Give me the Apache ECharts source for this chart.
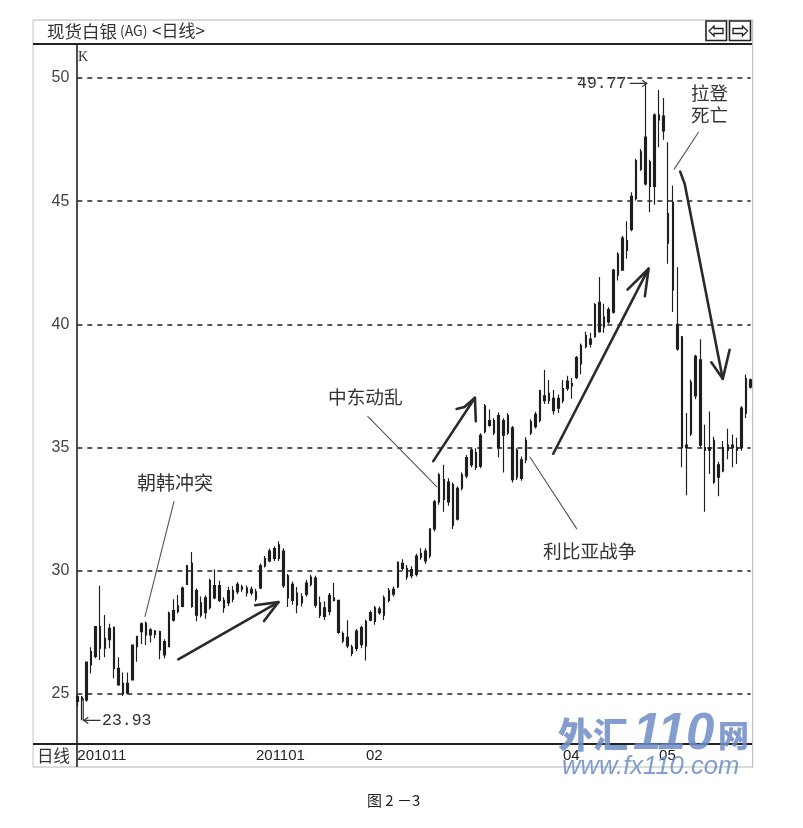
<!DOCTYPE html>
<html><head><meta charset="utf-8">
<style>html,body{margin:0;padding:0;background:#fff}#c{width:803px;height:828px}</style>
<script src="https://cdn.jsdelivr.net/npm/echarts@6/dist/echarts.min.js"></script>
</head><body><div id="c"></div>
<script>
// Daily bars (all candles are drawn black, so only body top/bottom are readable)
const highs=[24.96,24.92,26.31,26.9,27.74,29.39,28.21,27.85,27.74,26.49,25.87,25.87,26.99,27.36,27.9,27.94,27.67,27.6,27.57,27.22,28.35,28.85,29.02,29.36,30.24,30.76,29.28,28.96,29.0,29.68,30.05,29.6,28.93,29.35,29.37,29.55,29.43,29.4,29.36,29.27,30.3,30.6,30.9,31.0,31.2,30.92,29.87,29.57,29.34,29.09,29.64,29.84,29.8,28.96,28.76,29.1,29.5,28.82,27.54,27.99,27.0,27.64,27.77,28.01,28.39,28.58,28.55,29.0,29.3,29.36,30.38,30.47,30.24,30.18,30.69,30.92,30.92,31.73,32.88,33.96,34.3,33.76,33.58,33.42,33.99,34.7,34.97,34.97,35.58,36.77,36.55,36.19,36.42,36.19,36.39,35.88,34.97,34.64,35.42,36.15,36.46,37.35,38.15,37.74,37.34,37.15,37.74,37.92,37.82,38.72,39.22,39.7,39.66,40.87,41.92,40.84,40.7,42.26,42.93,43.6,44.19,45.36,46.72,47.12,49.77,46.68,48.57,49.51,49.19,47.39,45.64,42.32,39.53,36.4,37.76,38.77,39.4,35.93,36.47,35.44,34.43,35.27,35.76,35.53,35.4,36.69,37.97,37.8];
const lows=[24.49,23.93,24.69,25.84,26.45,26.38,26.49,26.86,25.64,25.33,24.92,25.0,25.57,26.31,27.03,26.99,27.09,27.26,26.41,26.45,26.9,27.94,28.28,28.52,29.43,28.5,27.95,28.1,28.05,28.43,28.85,28.73,28.3,28.57,28.72,29.05,29.15,28.96,29.0,28.75,29.25,30.13,30.35,30.4,30.4,29.3,28.53,28.62,28.28,28.55,28.96,29.36,28.5,28.08,28.0,28.2,28.75,27.45,27.07,26.86,26.53,26.73,26.86,26.36,27.95,27.81,28.22,28.0,28.72,28.96,29.3,30.0,29.64,29.7,29.77,30.45,30.28,30.51,31.6,32.68,32.4,32.64,31.7,32.04,33.26,33.76,34.2,34.09,34.16,35.58,35.85,35.51,34.6,33.99,35.51,33.58,33.69,33.65,34.36,35.51,35.78,36.03,36.77,36.77,36.34,36.4,36.8,37.31,36.98,37.78,37.98,39.03,39.06,39.46,39.66,39.66,40.03,40.43,41.78,42.19,42.66,43.78,45.03,46.24,45.64,44.55,44.86,47.19,47.49,42.46,40.5,38.93,34.2,33.07,35.47,36.96,35.0,32.4,33.93,33.53,33.03,34.0,34.53,34.2,34.33,34.87,36.2,37.4];
const bodyTops=[24.9,24.86,26.3,26.72,27.74,27.74,27.26,27.67,27.71,26.04,25.43,25.43,26.99,27.33,27.85,27.87,27.6,27.55,27.53,27.13,28.28,28.39,28.58,29.3,30.2,30.3,29.2,28.7,28.9,29.6,29.4,29.4,28.8,29.2,29.2,29.45,29.35,29.3,29.25,29.15,30.2,30.5,30.8,30.9,31.05,30.8,29.8,29.45,29.1,28.95,29.5,29.75,29.7,28.7,28.5,29.0,28.9,28.8,27.45,27.3,26.9,27.55,27.7,27.95,28.3,28.5,28.45,28.9,29.2,29.25,30.35,30.3,30.1,30.05,30.6,30.7,30.8,31.7,32.8,33.9,33.7,33.6,33.5,33.35,33.9,34.6,34.9,34.8,35.5,36.7,36.1,36.1,36.3,36.1,36.3,35.8,34.9,34.5,35.3,36.05,36.35,37.3,37.1,37.2,37.0,37.0,37.4,37.7,37.6,38.65,39.15,39.55,39.4,40.8,40.9,40.3,40.6,42.2,42.85,43.5,43.4,45.2,46.65,47.0,47.6,46.6,48.5,48.5,48.45,44.5,44.95,40.0,39.5,35.1,37.65,38.7,38.56,35.0,35.0,35.3,34.3,35.0,35.1,35.1,35.0,36.6,37.8,37.75];
const bodyBottoms=[24.7,24.76,24.76,26.18,26.52,26.86,26.86,27.2,26.04,25.37,25.0,25.03,25.57,26.92,27.53,27.4,27.4,27.42,26.79,26.59,26.92,28.0,28.35,28.55,29.45,28.55,28.2,28.2,28.3,28.5,28.9,28.8,28.5,28.7,28.85,29.15,29.25,29.1,29.1,28.85,29.3,30.2,30.4,30.5,30.5,29.4,28.9,28.8,28.6,28.7,29.05,29.45,28.6,28.2,28.15,28.35,28.8,27.5,27.15,26.95,26.65,26.85,27.0,26.95,28.0,27.95,28.3,28.2,28.8,29.05,29.35,30.1,29.75,29.8,29.85,30.55,30.4,30.6,31.7,32.8,32.9,32.8,31.85,32.1,33.35,33.85,34.3,34.2,34.25,35.65,35.9,35.6,35.0,35.5,35.6,33.7,33.8,33.75,34.5,35.6,35.85,36.1,36.9,36.9,36.5,36.6,36.9,37.4,37.5,37.85,38.4,39.1,39.2,39.5,39.7,39.9,40.1,40.5,42.0,42.2,43.0,43.85,45.1,46.3,45.7,45.6,45.6,48.3,47.85,43.3,41.4,39.0,35.0,35.0,35.55,37.1,35.1,34.9,34.9,33.6,33.8,34.05,34.9,35.0,34.9,35.0,36.4,37.45];
const tickLabels={0:'201011',39:'201101',63:'02',106:'04',127:'05'};
const yTicks={min:25,max:50,step:5};
// Annotation strokes in chart units [bar number, price]
const thinNotes=[
 [[21.1,32.81],[14.78,28.15]],
 [[63.4,36.27],[78.5,33.41]],
 [[98.8,34.62],[109,31.71]],
 [[135.6,47.8],[130.3,46.3]]
];
const thickArrows=[
 [[22.05,26.41],[43.9,28.73]],[[38.8,28.6],[43.9,28.73],[40.76,27.96]],
 [[77.7,34.45],[86.8,37.02]],[[82.8,36.57],[84.5,36.65],[86.8,37.02],[87,36.07]],
 [[103.9,34.75],[124.7,42.26]],[[120.1,41.41],[124.7,42.26],[123.9,41.14]],
 [[131.6,46.2],[132.6,45.7],[140.9,37.79]],[[138.4,38.46],[140.9,37.79],[142.4,38.97]]
];
const priceFlags=[
 [[1.3,24.8],[1.3,23.93],[4.96,23.93]],[[2.3,24.05],[1.4,23.93],[2.3,23.81]],
 [[120.7,49.78],[124.3,49.78]],[[123.4,49.9],[124.3,49.78],[123.4,49.66]]
];
const categories=highs.map((_,i)=>tickLabels[i]||'');
const noteSeries=(lines,color,width)=>lines.map(d=>({type:'line',xAxisIndex:1,data:d,symbol:'none',silent:true,clip:false,animation:false,z:5,
  lineStyle:{color,width,cap:'round',join:'round'}}));
const T=(x,y,text,size,o={})=>({type:'text',x,y,z:o.z||20,style:Object.assign({text,font:`${o.weight||'normal'} ${size}px ${o.family||'"Noto Sans CJK SC"'}`,fill:o.fill||'#333',opacity:o.opacity===undefined?1:o.opacity,textVerticalAlign:'middle',verticalAlign:'middle'},o.extra||{})});
const L=(x1,y1,x2,y2,c,w)=>({type:'line',z:1,shape:{x1,y1,x2,y2},style:{stroke:c,lineWidth:w}});
const R=(x,y,w,h,c,lw)=>({type:'rect',z:3,shape:{x,y,width:w,height:h},style:{fill:'#fff',stroke:c,lineWidth:lw}});
const P=(pts)=>({type:'polygon',z:4,shape:{points:pts},style:{fill:'#fff',stroke:'#222',lineWidth:1.3}});
const wm={fill:'#6f8ec6',opacity:0.86,z:30};
const graphics=[
 L(33,20,753,20,'#b5b5b5',1),L(33,767,753,767,'#b5b5b5',1),L(33,20,33,767,'#c4c4c4',1),L(752.7,20,752.7,767,'#b5b5b5',1),
 L(33,44,752,44,'#222',2),L(33,744,752,744,'#222',2),L(77,44,77,767,'#222',1.6),
 R(706,21,20.5,19.5,'#222',1.6),R(729.5,21,21,19.5,'#222',1.6),
 P([[709,31],[714,26],[714,28.5],[723,28.5],[723,33.5],[714,33.5],[714,36]]),
 P([[747.5,31],[742.5,26],[742.5,28.5],[733,28.5],[733,33.5],[742.5,33.5],[742.5,36]]),
 T(47,31,'现货白银',17.5),T(120,31,'(AG)',14),T(152,31,'<日线>',17),
 T(78,57,'K',14,{family:'"Liberation Serif"'}),
 T(37,756,'日线',16.5),
 T(137,483,'朝韩冲突',19),T(328,397,'中东动乱',18.7),T(543,551,'利比亚战争',18.7),
 T(691,93,'拉登',18.5),T(691,115,'死亡',18.5),
 T(102,721,'23.93',16.5,{family:'"Liberation Mono"'}),T(577,84,'49.77',16.5,{family:'"Liberation Mono"'}),
 T(367,800,'图 2 －3',15,{fill:'#222'}),
 T(558,735,'外汇',35,Object.assign({weight:900},wm)),T(633,735,'110',51,Object.assign({weight:'bold italic',family:'"Liberation Sans"'},wm)),T(718,735,'网',31,Object.assign({weight:900},wm)),
 T(562,767,'www.fx110.com',25.6,Object.assign({weight:'italic',family:'"Liberation Sans"'},wm))
];
const chart=echarts.init(document.getElementById('c'),null,{renderer:'canvas'});
chart.setOption({
 animation:false,backgroundColor:'#fff',
 grid:{left:77.3,right:803-750.7,top:78,bottom:828-694,containLabel:false},
 xAxis:[
  {type:'category',data:categories,boundaryGap:false,position:'bottom',offset:50,
   axisLine:{show:false},axisTick:{show:false},splitLine:{show:false},
   axisLabel:{interval:(i,v)=>v!=='',align:'left',margin:4,color:'#222',fontSize:15,fontFamily:'"Liberation Sans"',hideOverlap:false,formatter:v=>v}},
  {type:'value',min:0,max:highs.length-1,show:false}
 ],
 yAxis:{type:'value',min:yTicks.min,max:yTicks.max,interval:yTicks.step,
  axisLine:{show:false},axisTick:{show:false},
  axisLabel:{margin:8,color:'#444',fontSize:16,fontFamily:'"Liberation Sans"'},
  splitLine:{show:true,lineStyle:{color:'#222',width:1.5,type:[5,5]}}},
 graphic:graphics,
 series:[
  {type:'candlestick',xAxisIndex:0,barWidth:2,clip:false,silent:true,z:3,
   data:highs.map((h,i)=>[bodyBottoms[i],bodyTops[i],lows[i],h]),
   itemStyle:{color:'#1e1e1e',color0:'#1e1e1e',borderColor:'#1e1e1e',borderColor0:'#1e1e1e',borderWidth:1.15}},
  ...noteSeries(thinNotes,'#555',1.1),
  ...noteSeries(thickArrows,'#2a2a2a',2.6),
  ...noteSeries(priceFlags,'#333',1.2)
 ]
});
</script></body></html>
